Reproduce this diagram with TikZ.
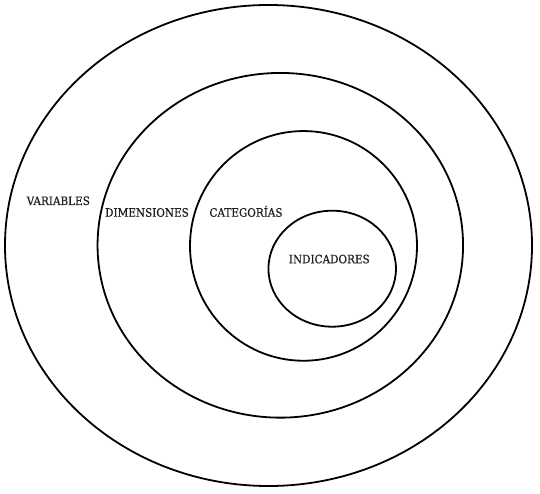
\documentclass[tikz,border=0pt]{standalone}
\usepackage{fontspec}
\setmainfont{DejaVu Serif Condensed}[FakeBold=0.5]
\usetikzlibrary{shapes.geometric}
\begin{document}
\begin{tikzpicture}[x=1pt,y=-1pt,
  ring/.style={draw=black,line width=1.8pt,ellipse,inner sep=0pt},
  lbl/.style={anchor=base,inner sep=0pt,font=\fontsize{11.6}{13}\selectfont,text=black!88}]
\useasboundingbox (0,0) rectangle (540,494);
\fill[white] (0,0) rectangle (540,494);
\node[ring,minimum width=527pt,minimum height=481pt] (variables) at (268.5,245.5) {};
\node[ring,minimum width=365.5pt,minimum height=344.7pt] (dimensiones) at (280.3,245.3) {};
\node[ring,minimum width=227pt,minimum height=229.7pt] (categorias) at (303.5,245.9) {};
\node[ring,minimum width=127.5pt,minimum height=116pt] (indicadores) at (332.2,268.7) {};
\node[lbl] (tv) at (58.3,205) {VARIABLES};
\node[lbl] (td) at (147,216.7) {DIMENSIONES};
\node[lbl] (tc) at (246,216.7) {CATEGORÍAS};
\node[lbl] (ti) at (329.3,263.3) {INDICADORES};
\end{tikzpicture}
\end{document}
